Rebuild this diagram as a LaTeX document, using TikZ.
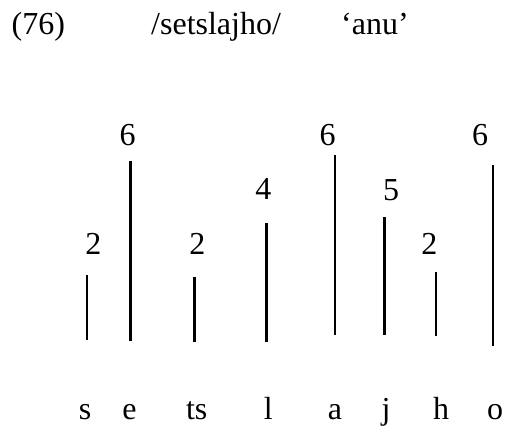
\documentclass[tikz,border=0pt]{standalone}
\usepackage{fontspec}
\setmainfont{Liberation Serif}
\begin{document}
\begin{tikzpicture}[x=1pt,y=-1pt,
  txt/.style={inner sep=0pt,anchor=base,font=\fontsize{32}{36}\selectfont},
  bar/.style={line cap=butt}]
\useasboundingbox (0,0) rectangle (506,427);
% title
\node[txt,anchor=base west] (num) at (11.5,35) {(76)};
\node[txt,anchor=base west] (form) at (151,35) {/setslajho/};
\node[txt,anchor=base west] (gloss) at (341,35) {‘anu’};
% level numbers
\node[txt] (n1) at (93.3,255) {2};
\node[txt] (n2) at (127.5,146) {6};
\node[txt] (n3) at (197.3,255) {2};
\node[txt] (n4) at (263.3,200) {4};
\node[txt] (n5) at (327.7,146) {6};
\node[txt] (n6) at (391,201) {5};
\node[txt] (n7) at (429.3,255) {2};
\node[txt] (n8) at (480,146) {6};
% bars
\draw[bar,line width=1.6pt] (86.7,275) -- (86.7,340);
\draw[bar,line width=3pt] (130.3,161) -- (130.3,340.7);
\draw[bar,line width=2.4pt] (194.3,276.7) -- (194.3,341.7);
\draw[bar,line width=3pt] (266.3,223.3) -- (266.3,341.7);
\draw[bar,line width=2pt] (335,155) -- (335,335);
\draw[bar,line width=2.8pt] (384.3,217.3) -- (384.3,335);
\draw[bar,line width=1.8pt] (435.7,271.7) -- (435.7,336);
\draw[bar,line width=2.2pt] (492.7,165) -- (492.7,346);
% segments
\node[txt] (s1) at (85,420) {s};
\node[txt] (s2) at (129.5,420) {e};
\node[txt] (s3) at (196.7,420) {ts};
\node[txt] (s4) at (268.3,420) {l};
\node[txt] (s5) at (335,420) {a};
\node[txt] (s6) at (386,420) {j};
\node[txt] (s7) at (441,420) {h};
\node[txt] (s8) at (495,420) {o};
\end{tikzpicture}
\end{document}
